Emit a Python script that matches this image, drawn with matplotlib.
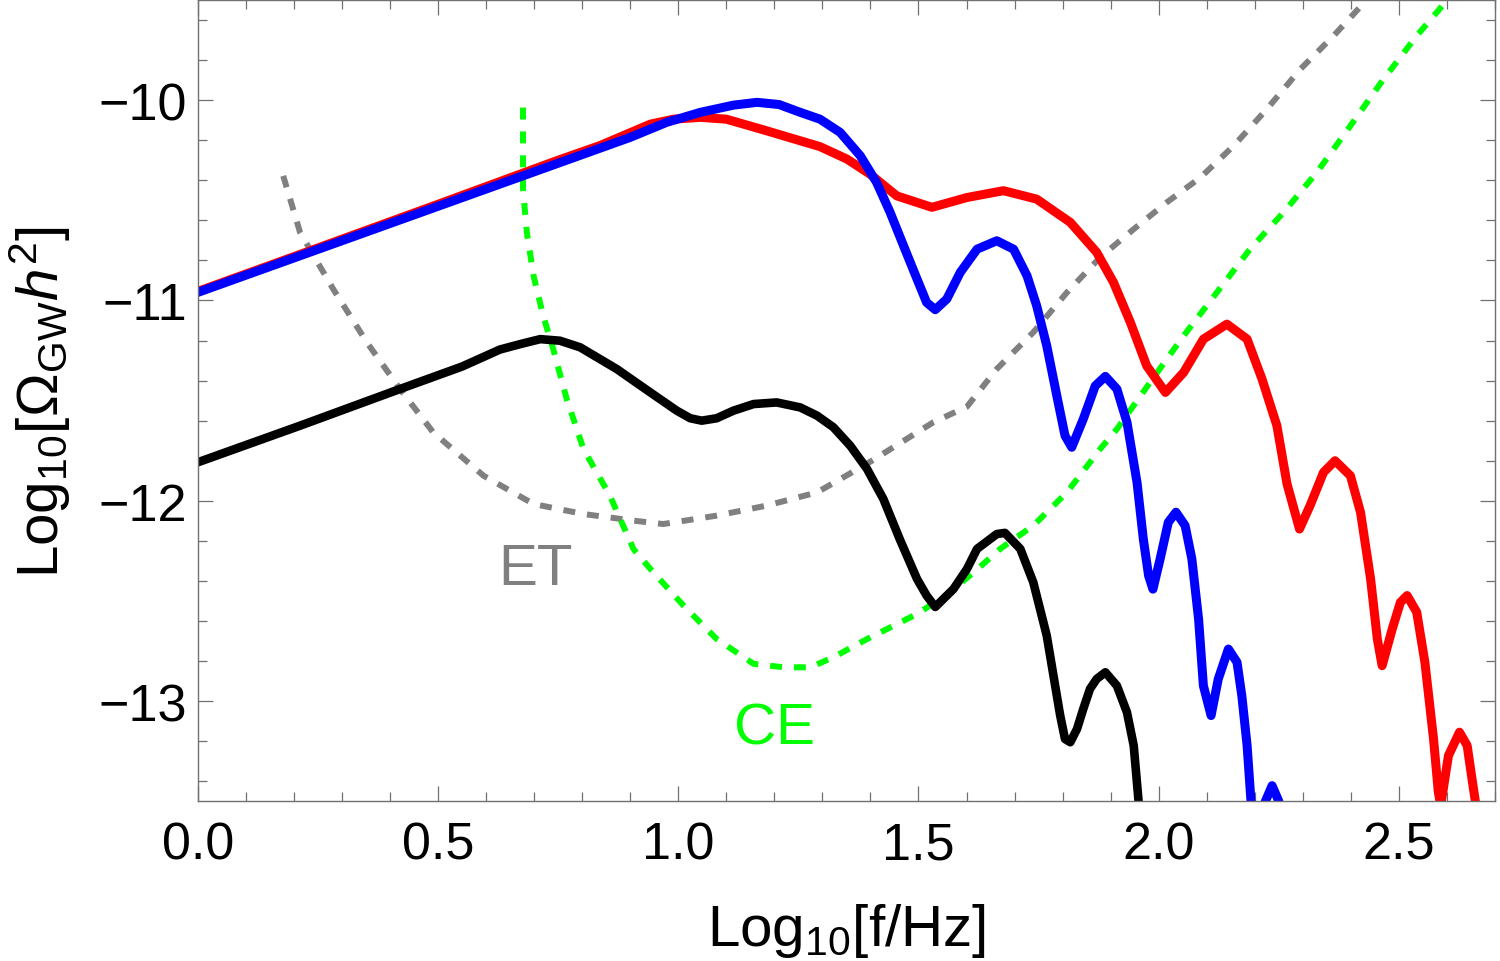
"""
plot.py - GW spectra vs ET / CE sensitivity curves (Log10 Omega_GW h^2 vs Log10 f).
Values read off the reference figure by eye.
"""

import matplotlib
matplotlib.use("Agg")
import matplotlib.pyplot as plt
from matplotlib.ticker import MultipleLocator, FormatStrFormatter

plt.rcParams["font.family"] = ["Liberation Sans", "DejaVu Sans"]
plt.rcParams["mathtext.fontset"] = "custom"
plt.rcParams["mathtext.rm"] = "Liberation Sans"
plt.rcParams["mathtext.it"] = "Liberation Sans:italic"
plt.rcParams["mathtext.bf"] = "Liberation Sans:bold"

# ---------------------------------------------------------------------
# data (log10 f, log10 Omega h^2)
# ---------------------------------------------------------------------
red_x = [0.0, 0.25, 0.5, 0.75, 0.838, 0.942, 0.99, 1.046, 1.1, 1.184,
         1.219, 1.295, 1.351, 1.399, 1.455, 1.528, 1.601, 1.677, 1.746,
         1.816, 1.871, 1.906, 1.941, 1.975, 2.014, 2.052, 2.093, 2.142,
         2.184, 2.215, 2.246, 2.267, 2.293, 2.315, 2.343, 2.367, 2.399,
         2.420, 2.441, 2.455, 2.465, 2.486, 2.503, 2.517, 2.537, 2.554,
         2.572, 2.582, 2.587, 2.603, 2.626, 2.642, 2.652, 2.659, 2.668]
red_y = [-10.955, -10.738, -10.52, -10.30, -10.226, -10.12, -10.095,
         -10.086, -10.095, -10.153, -10.178, -10.232, -10.294, -10.369,
         -10.478, -10.535, -10.486, -10.452, -10.494, -10.610, -10.760,
         -10.910, -11.109, -11.326, -11.459, -11.359, -11.193, -11.118,
         -11.193, -11.392, -11.625, -11.915, -12.141, -12.024, -11.858,
         -11.800, -11.875, -12.057, -12.390, -12.690, -12.823, -12.640,
         -12.507, -12.473, -12.556, -12.806, -13.189, -13.455, -13.52,
         -13.272, -13.155, -13.222, -13.388, -13.5, -13.75]

blue_x = [0.0, 0.25, 0.5, 0.75, 0.9, 0.976, 1.046, 1.115, 1.164, 1.21,
          1.254, 1.295, 1.337, 1.379, 1.413, 1.441, 1.469, 1.497, 1.517,
          1.535, 1.559, 1.587, 1.622, 1.663, 1.698, 1.726, 1.746, 1.767,
          1.788, 1.805, 1.819, 1.843, 1.868, 1.889, 1.913, 1.934, 1.955,
          1.968, 1.979, 1.988, 2.003, 2.020, 2.036, 2.055, 2.069, 2.083,
          2.093, 2.109, 2.124, 2.145, 2.163, 2.173, 2.184, 2.192, 2.207,
          2.222, 2.236, 2.250, 2.262]
blue_y = [-10.96, -10.745, -10.53, -10.315, -10.186, -10.111, -10.061,
          -10.025, -10.011, -10.022, -10.061, -10.095, -10.161, -10.278,
          -10.411, -10.560, -10.727, -10.893, -11.010, -11.046, -10.993,
          -10.860, -10.744, -10.702, -10.744, -10.877, -11.026, -11.226,
          -11.476, -11.675, -11.733, -11.592, -11.426, -11.379, -11.442,
          -11.608, -11.91, -12.191, -12.374, -12.441, -12.290, -12.107,
          -12.057, -12.124, -12.290, -12.590, -12.923, -13.072, -12.889,
          -12.740, -12.806, -12.973, -13.222, -13.497, -13.75, -13.5,
          -13.422, -13.5, -13.75]

black_x = [0.0, 0.213, 0.421, 0.55, 0.629, 0.671, 0.713, 0.754, 0.796,
           0.872, 0.942, 0.997, 1.025, 1.049, 1.080, 1.115, 1.157, 1.205,
           1.254, 1.289, 1.323, 1.358, 1.393, 1.427, 1.461, 1.497, 1.517,
           1.535, 1.573, 1.601, 1.622, 1.663, 1.680, 1.712, 1.739, 1.767,
           1.781, 1.795, 1.805, 1.816, 1.830, 1.843, 1.857, 1.871, 1.889,
           1.913, 1.934, 1.948, 1.958, 1.97]
black_y = [-11.808, -11.625, -11.442, -11.33, -11.245, -11.218, -11.193,
           -11.201, -11.234, -11.342, -11.459, -11.550, -11.588, -11.600,
           -11.588, -11.550, -11.517, -11.509, -11.534, -11.575, -11.633,
           -11.725, -11.841, -11.991, -12.191, -12.390, -12.473, -12.53,
           -12.440, -12.340, -12.240, -12.166, -12.160, -12.240, -12.407,
           -12.673, -12.873, -13.072, -13.189, -13.205, -13.139, -13.039,
           -12.939, -12.889, -12.856, -12.923, -13.056, -13.222, -13.497,
           -13.8]

et_x = [0.178, 0.213, 0.282, 0.352, 0.421, 0.490, 0.595, 0.699, 0.803,
        0.907, 0.969, 1.080, 1.184, 1.289, 1.393, 1.531, 1.601, 1.663,
        1.739, 1.809, 1.878, 1.948, 2.017, 2.087, 2.156, 2.225, 2.295,
        2.364, 2.431]
et_y = [-10.378, -10.660, -10.943, -11.209, -11.442, -11.658, -11.875,
        -12.016, -12.066, -12.099, -12.116, -12.074, -12.024, -11.958,
        -11.815, -11.608, -11.53, -11.342, -11.159, -10.960, -10.785,
        -10.644, -10.510, -10.386, -10.228, -10.045, -9.845, -9.679, -9.504]

ce_x = [0.677, 0.677, 0.685, 0.699, 0.719, 0.740, 0.768, 0.803, 0.858,
        0.907, 0.942, 1.011, 1.080, 1.157, 1.219, 1.275, 1.323, 1.393,
        1.497, 1.566, 1.635, 1.670, 1.739, 1.809, 1.878, 1.913, 1.982,
        2.052, 2.121, 2.190, 2.260, 2.329, 2.399, 2.468, 2.537, 2.596]
ce_y = [-10.037, -10.444, -10.660, -10.877, -11.076, -11.243, -11.492,
        -11.742, -11.975, -12.241, -12.340, -12.523, -12.690, -12.814,
        -12.831, -12.831, -12.781, -12.690, -12.565, -12.457, -12.315,
        -12.240, -12.124, -11.958, -11.742, -11.642, -11.409, -11.176,
        -10.960, -10.744, -10.560, -10.361, -10.128, -9.895, -9.679, -9.513]

x_ticks = [0.0, 0.5, 1.0, 1.5, 2.0, 2.5]
y_ticks = [-13, -12, -11, -10]

FRAME = "#707070"

fig = plt.figure(figsize=(15, 9.62), dpi=100)
ax = fig.add_axes([0.1318, 0.166, 0.8649, 0.833])

# detector curves first, spectra on top
ax.plot(et_x, et_y, color="#808080", lw=4.3, dashes=(2, 2),
        dash_capstyle="butt")
ax.plot(ce_x, ce_y, color="#00ff00", lw=4.3, dashes=(2, 2),
        dash_capstyle="butt")
ax.plot(black_x, black_y, color="black", lw=6.2)
ax.plot(red_x, red_y, color="#ff0000", lw=6.5)
ax.plot(blue_x, blue_y, color="#0000ff", lw=6.5)

ax.text(0.702, -12.415, "ET", color="#808080", fontsize=42, ha="center",
        va="baseline")
ax.text(1.200, -13.209, "CE", color="#00ff00", fontsize=42, ha="center",
        va="baseline")

ax.set_xlim(0, 2.7)
ax.set_ylim(-13.5, -9.5)
ax.set_xticks(x_ticks)
ax.set_yticks(y_ticks)
ax.xaxis.set_major_formatter(FormatStrFormatter("%.1f"))
ax.xaxis.set_minor_locator(MultipleLocator(0.1))
ax.yaxis.set_minor_locator(MultipleLocator(0.2))

ax.tick_params(which="both", direction="in", top=True, right=True,
               color=FRAME, width=0.9, labelsize=37.5)
ax.tick_params(axis="x", pad=13.5)
ax.tick_params(axis="y", pad=8)
ax.tick_params(which="major", length=10.8)
ax.tick_params(which="minor", length=6.5)
for sp in ax.spines.values():
    sp.set_color(FRAME)
    sp.set_linewidth(1.0)

ax.set_xlabel(r"Log$_{10}$[f/Hz]", fontsize=42, labelpad=23)
ax.set_ylabel(r"Log$_{10}$[$\Omega_{\mathrm{GW}}\mathit{h}^2$]",
              fontsize=42, labelpad=18)

fig.savefig("out.png", dpi=100)
plt.close(fig)
